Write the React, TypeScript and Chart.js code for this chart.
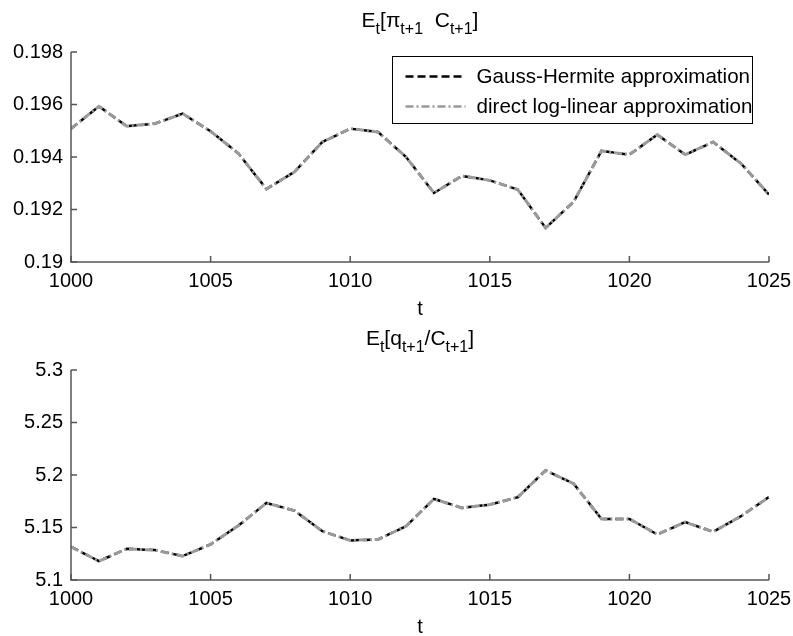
import { useEffect, useRef } from "react";
import { Chart, registerables } from "chart.js";

Chart.register(...registerables);

const tValues = [
  1000, 1001, 1002, 1003, 1004, 1005, 1006, 1007, 1008, 1009, 1010, 1011, 1012,
  1013, 1014, 1015, 1016, 1017, 1018, 1019, 1020, 1021, 1022, 1023, 1024, 1025,
];

const piGaussHermite = [
  0.19508, 0.19593, 0.19517, 0.19527, 0.19565, 0.19498, 0.19413, 0.19278,
  0.19343, 0.19457, 0.19508, 0.19495, 0.194, 0.19263, 0.19328, 0.19311,
  0.19276, 0.1913, 0.19229, 0.19423, 0.19409, 0.19485, 0.19409, 0.19457,
  0.19375, 0.19257,
];
const piLogLinear = [
  0.19508, 0.19593, 0.19517, 0.19527, 0.19565, 0.19498, 0.19413, 0.19278,
  0.19343, 0.19457, 0.19508, 0.19495, 0.194, 0.19263, 0.19328, 0.19311,
  0.19276, 0.1913, 0.19229, 0.19423, 0.19409, 0.19485, 0.19409, 0.19457,
  0.19375, 0.19257,
];

const qGaussHermite = [
  5.1316, 5.118, 5.1297, 5.1285, 5.1228, 5.1339, 5.1519, 5.1734, 5.1661,
  5.1465, 5.1377, 5.1386, 5.1513, 5.1772, 5.1687, 5.1718, 5.1788, 5.2044,
  5.1918, 5.1582, 5.1582, 5.1434, 5.1551, 5.1459, 5.1608, 5.1791,
];
const qLogLinear = [
  5.1316, 5.118, 5.1297, 5.1285, 5.1228, 5.1339, 5.1519, 5.1734, 5.1661,
  5.1465, 5.1377, 5.1386, 5.1513, 5.1772, 5.1687, 5.1718, 5.1788, 5.2044,
  5.1918, 5.1582, 5.1582, 5.1434, 5.1551, 5.1459, 5.1608, 5.1791,
];

const xTicks = [1000, 1005, 1010, 1015, 1020, 1025];
const piTicks = [0.19, 0.192, 0.194, 0.196, 0.198];
const qTicks = [5.1, 5.15, 5.2, 5.25, 5.3];

const seriesNames = ["Gauss-Hermite approximation", "direct log-linear approximation"];

type Seg = { text: string; sub?: boolean };
const piTitle: Seg[] = [
  { text: "E" },
  { text: "t", sub: true },
  { text: "[π" },
  { text: "t+1", sub: true },
  { text: "  C" },
  { text: "t+1", sub: true },
  { text: "]" },
];
const qTitle: Seg[] = [
  { text: "E" },
  { text: "t", sub: true },
  { text: "[q" },
  { text: "t+1", sub: true },
  { text: "/C" },
  { text: "t+1", sub: true },
  { text: "]" },
];

const FONT = '"Liberation Sans", Arial, Helvetica, sans-serif';
const BLACK_DASH = [8, 4];
const GRAY_DASHDOT = [8, 3, 2, 3];
const GRAY = "#9a9a9a";

function makeDecor(title: Seg[], withLegend: boolean) {
  return {
    id: "decor",
    afterDraw(chart: any) {
      const ctx: CanvasRenderingContext2D = chart.ctx;
      const { left, right, top, bottom } = chart.chartArea;
      const xs = chart.scales.x;
      const ys = chart.scales.y;
      ctx.save();
      // axes
      ctx.strokeStyle = "#555";
      ctx.lineWidth = 1.5;
      ctx.setLineDash([]);
      ctx.beginPath();
      ctx.moveTo(left, top);
      ctx.lineTo(left, bottom);
      ctx.lineTo(right, bottom);
      ctx.stroke();
      ctx.beginPath();
      xs.ticks.forEach((t: any) => {
        const px = xs.getPixelForValue(t.value);
        ctx.moveTo(px, bottom);
        ctx.lineTo(px, bottom - 6);
      });
      ys.ticks.forEach((t: any) => {
        const py = ys.getPixelForValue(t.value);
        ctx.moveTo(left, py);
        ctx.lineTo(left + 6, py);
      });
      ctx.stroke();

      // title with subscripts
      const mainFont = `21px ${FONT}`;
      const subFont = `16px ${FONT}`;
      let total = 0;
      title.forEach((s) => {
        ctx.font = s.sub ? subFont : mainFont;
        total += ctx.measureText(s.text).width;
      });
      let x = (left + right) / 2 - total / 2;
      const baseY = top - 25;
      ctx.fillStyle = "#000";
      ctx.textBaseline = "alphabetic";
      ctx.textAlign = "left";
      title.forEach((s) => {
        ctx.font = s.sub ? subFont : mainFont;
        ctx.fillText(s.text, x, s.sub ? baseY + 7 : baseY);
        x += ctx.measureText(s.text).width;
      });

      // x label
      ctx.font = `20px ${FONT}`;
      ctx.textAlign = "center";
      ctx.fillText("t", (left + right) / 2, bottom + 53);

      if (withLegend) {
        const bx = 392.5, by = 56.5, bw = 360, bh = 67;
        ctx.fillStyle = "#fff";
        ctx.fillRect(bx, by, bw, bh);
        ctx.strokeStyle = "#000";
        ctx.lineWidth = 1;
        ctx.strokeRect(bx, by, bw, bh);
        const rows = [
          { y: by + 20, color: "#000", dash: BLACK_DASH, w: 2.5 },
          { y: by + 50, color: GRAY, dash: GRAY_DASHDOT, w: 2.5 },
        ];
        rows.forEach((r, i) => {
          ctx.strokeStyle = r.color;
          ctx.lineWidth = r.w;
          ctx.setLineDash(r.dash);
          ctx.beginPath();
          ctx.moveTo(bx + 13, r.y);
          ctx.lineTo(bx + 73, r.y);
          ctx.stroke();
          ctx.setLineDash([]);
          ctx.fillStyle = "#000";
          ctx.font = `20.6px ${FONT}`;
          ctx.textAlign = "left";
          ctx.textBaseline = "middle";
          ctx.fillText(seriesNames[i], bx + 84, r.y + 1);
        });
      }
      ctx.restore();
    },
  };
}

function fmt(v: number) {
  return String(Number(v.toFixed(4)));
}

function makeConfig(gh: number[], ll: number[], yTicks: number[], title: Seg[], legend: boolean): any {
  return {
    type: "line",
    data: {
      datasets: [
        {
          label: seriesNames[1],
          data: tValues.map((t, i) => ({ x: t, y: ll[i] })),
          borderColor: GRAY,
          borderWidth: 3,
          borderDash: GRAY_DASHDOT,
          pointRadius: 0,
          fill: false,
          tension: 0,
          order: 0,
        },
        {
          label: seriesNames[0],
          data: tValues.map((t, i) => ({ x: t, y: gh[i] })),
          borderColor: "#000",
          borderWidth: 2.5,
          borderDash: BLACK_DASH,
          pointRadius: 0,
          fill: false,
          tension: 0,
          order: 1,
        },
      ],
    },
    options: {
      animation: false,
      responsive: false,
      maintainAspectRatio: false,
      layout: { padding: { left: 0, right: 24, top: 52, bottom: 0 } },
      plugins: { legend: { display: false }, tooltip: { enabled: false }, title: { display: false } },
      scales: {
        x: {
          type: "linear",
          min: xTicks[0],
          max: xTicks[xTicks.length - 1],
          grid: { display: false, drawTicks: false },
          border: { display: false },
          afterBuildTicks: (s: any) => {
            s.ticks = xTicks.map((v) => ({ value: v }));
          },
          afterFit: (s: any) => {
            s.height = 56;
            s.paddingLeft = 0;
            s.paddingRight = 0;
          },
          ticks: {
            padding: 7,
            color: "#000",
            font: { family: FONT, size: 20 },
            maxRotation: 0,
            autoSkip: false,
            callback: (v: number) => String(v),
          },
        },
        y: {
          type: "linear",
          min: yTicks[0],
          max: yTicks[yTicks.length - 1],
          grid: { display: false, drawTicks: false },
          border: { display: false },
          afterBuildTicks: (s: any) => {
            s.ticks = yTicks.map((v) => ({ value: v }));
          },
          afterFit: (s: any) => {
            s.width = 71;
            s.paddingTop = 0;
            s.paddingBottom = 0;
          },
          ticks: {
            padding: 8,
            color: "#000",
            font: { family: FONT, size: 20 },
            autoSkip: false,
            callback: (v: number) => fmt(v),
          },
        },
      },
    },
    plugins: [makeDecor(title, legend)],
  };
}

function Panel(props: { gh: number[]; ll: number[]; yTicks: number[]; title: Seg[]; legend: boolean; top: number }) {
  const ref = useRef<HTMLCanvasElement | null>(null);
  useEffect(() => {
    if (!ref.current) return;
    const chart = new Chart(ref.current, makeConfig(props.gh, props.ll, props.yTicks, props.title, props.legend));
    return () => chart.destroy();
  }, []);
  return (
    <canvas
      ref={ref}
      width={793}
      height={318}
      style={{ position: "absolute", left: 0, top: props.top, width: 793, height: 318 }}
    />
  );
}

export default function App() {
  return (
    <div style={{ position: "fixed", left: 0, top: 0, width: 793, height: 636, background: "#fff" }}>
      <Panel gh={piGaussHermite} ll={piLogLinear} yTicks={piTicks} title={piTitle} legend={true} top={0} />
      <Panel gh={qGaussHermite} ll={qLogLinear} yTicks={qTicks} title={qTitle} legend={false} top={318} />
    </div>
  );
}
